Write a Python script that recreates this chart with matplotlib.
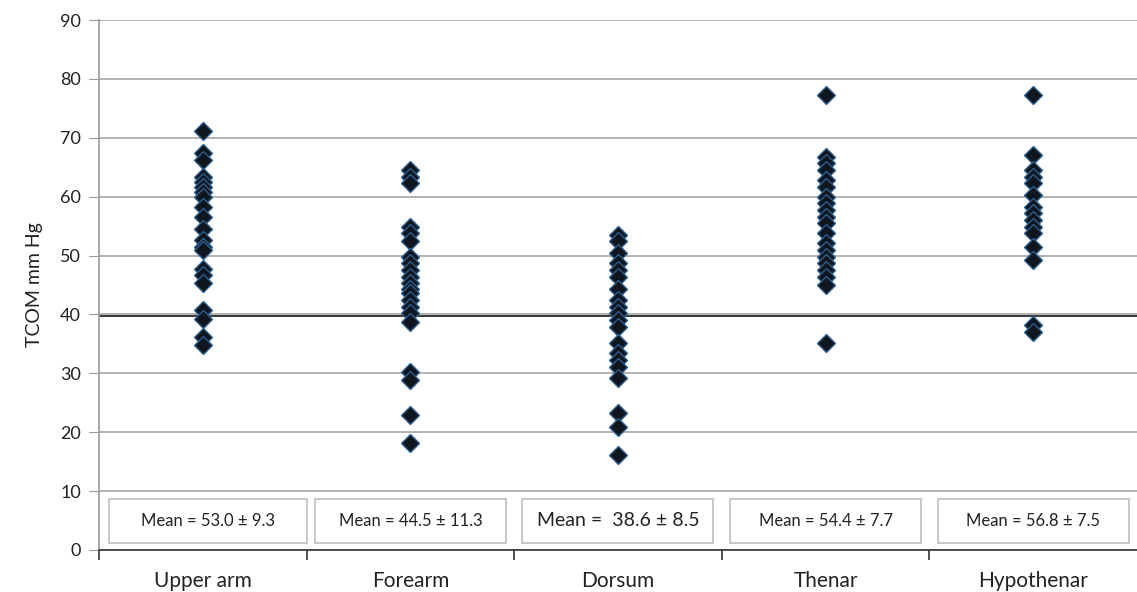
import numpy as np
import matplotlib
matplotlib.use("Agg")
import matplotlib.pyplot as plt
from matplotlib.patches import Rectangle

plt.rcParams['font.family'] = ['Lato', 'DejaVu Sans']

sites = ["Upper arm", "Forearm", "Dorsum", "Thenar", "Hypothenar"]

upper_arm = [71.1, 67.4, 66.2, 63.4, 62.5, 61.7, 60.8, 60.0, 58.3, 56.6, 54.6,
             52.6, 51.5, 50.9, 47.8, 46.7, 45.3, 40.7, 39.3, 36.2, 34.8]
forearm = [64.5, 63.4, 62.3, 54.9, 53.8, 52.4, 49.8, 48.7, 47.5, 46.4, 45.3,
           44.4, 43.6, 42.4, 41.3, 40.2, 38.8, 30.3, 28.9, 22.9, 18.1]
dorsum = [53.5, 52.4, 50.4, 48.7, 47.5, 46.4, 44.4, 42.4, 41.3, 40.2, 39.1,
          37.9, 35.1, 33.4, 32.3, 31.1, 29.2, 23.2, 20.9, 16.1]
thenar = [77.3, 66.8, 65.7, 64.5, 62.8, 61.7, 60.0, 58.9, 57.7, 56.6, 55.5,
          53.8, 52.1, 50.9, 49.8, 48.7, 47.5, 46.4, 45.0, 35.1]
hypothenar = [77.3, 67.1, 64.5, 63.4, 62.3, 60.3, 58.3, 57.2, 56.0, 54.9,
              53.8, 51.5, 49.2, 38.2, 37.1]

series = [upper_arm, forearm, dorsum, thenar, hypothenar]
mean_labels = ["Mean = 53.0 \u00b1 9.3", "Mean = 44.5 \u00b1 11.3",
               "Mean =  38.6 \u00b1 8.5", "Mean = 54.4 \u00b1 7.7",
               "Mean = 56.8 \u00b1 7.5"]
mean_sizes = [12, 12, 14, 12, 12]
ref_line = 39.7

fig = plt.figure(figsize=(11.37, 5.92), dpi=100)
ax = fig.add_axes([0.087, 0.071, 0.913, 0.895])

for i, vals in enumerate(series):
    x = np.full(len(vals), i + 1)
    ax.plot(x, vals, linestyle='none', marker='D', markersize=9.5,
            markerfacecolor='#10161e', markeredgecolor='#2b5d8e',
            markeredgewidth=1.0, zorder=3)

ax.axhline(ref_line, color='#2a2a2a', linewidth=1.3, zorder=2)

# mean boxes
for i, lab in enumerate(mean_labels):
    left = i + 0.54 if i > 0 else i + 0.55
    w = 0.92 if i > 0 else 0.95
    ax.add_patch(Rectangle((left, 1.2), w, 7.5, facecolor='white',
                           edgecolor='#bdbdbd', linewidth=1.2, zorder=4))
    ax.text(left + w / 2, 4.95, lab, ha='center', va='center',
            fontsize=mean_sizes[i], color='#222222', zorder=5)

ax.set_xlim(0.5, 5.5)
ax.set_ylim(0, 90)
ax.set_yticks(np.arange(0, 91, 10))
ax.set_xticks(np.arange(1, 6))
ax.set_xticklabels(sites)
ax.set_xticks(np.arange(0.5, 5.0, 1.0), minor=True)
ax.tick_params(axis='x', which='major', length=0, pad=15, labelsize=15,
               labelcolor='#222222')
ax.tick_params(axis='x', which='minor', length=7, width=1.2, color='#333333',
               direction='out')
ax.tick_params(axis='y', length=7, color='#999999', labelsize=13,
               labelcolor='#222222', pad=6)

ax.yaxis.grid(True, color='#a6a6a6', linewidth=1.2)
ax.set_axisbelow(True)
for s in ['top', 'right']:
    ax.spines[s].set_visible(False)
ax.spines['left'].set_color('#999999')
ax.spines['left'].set_linewidth(1.2)
ax.spines['bottom'].set_color('#333333')
ax.spines['bottom'].set_linewidth(1.2)

ax.set_ylabel('TCOM mm Hg', fontsize=14, color='#222222', labelpad=12)

fig.savefig('out.png', dpi=100)
